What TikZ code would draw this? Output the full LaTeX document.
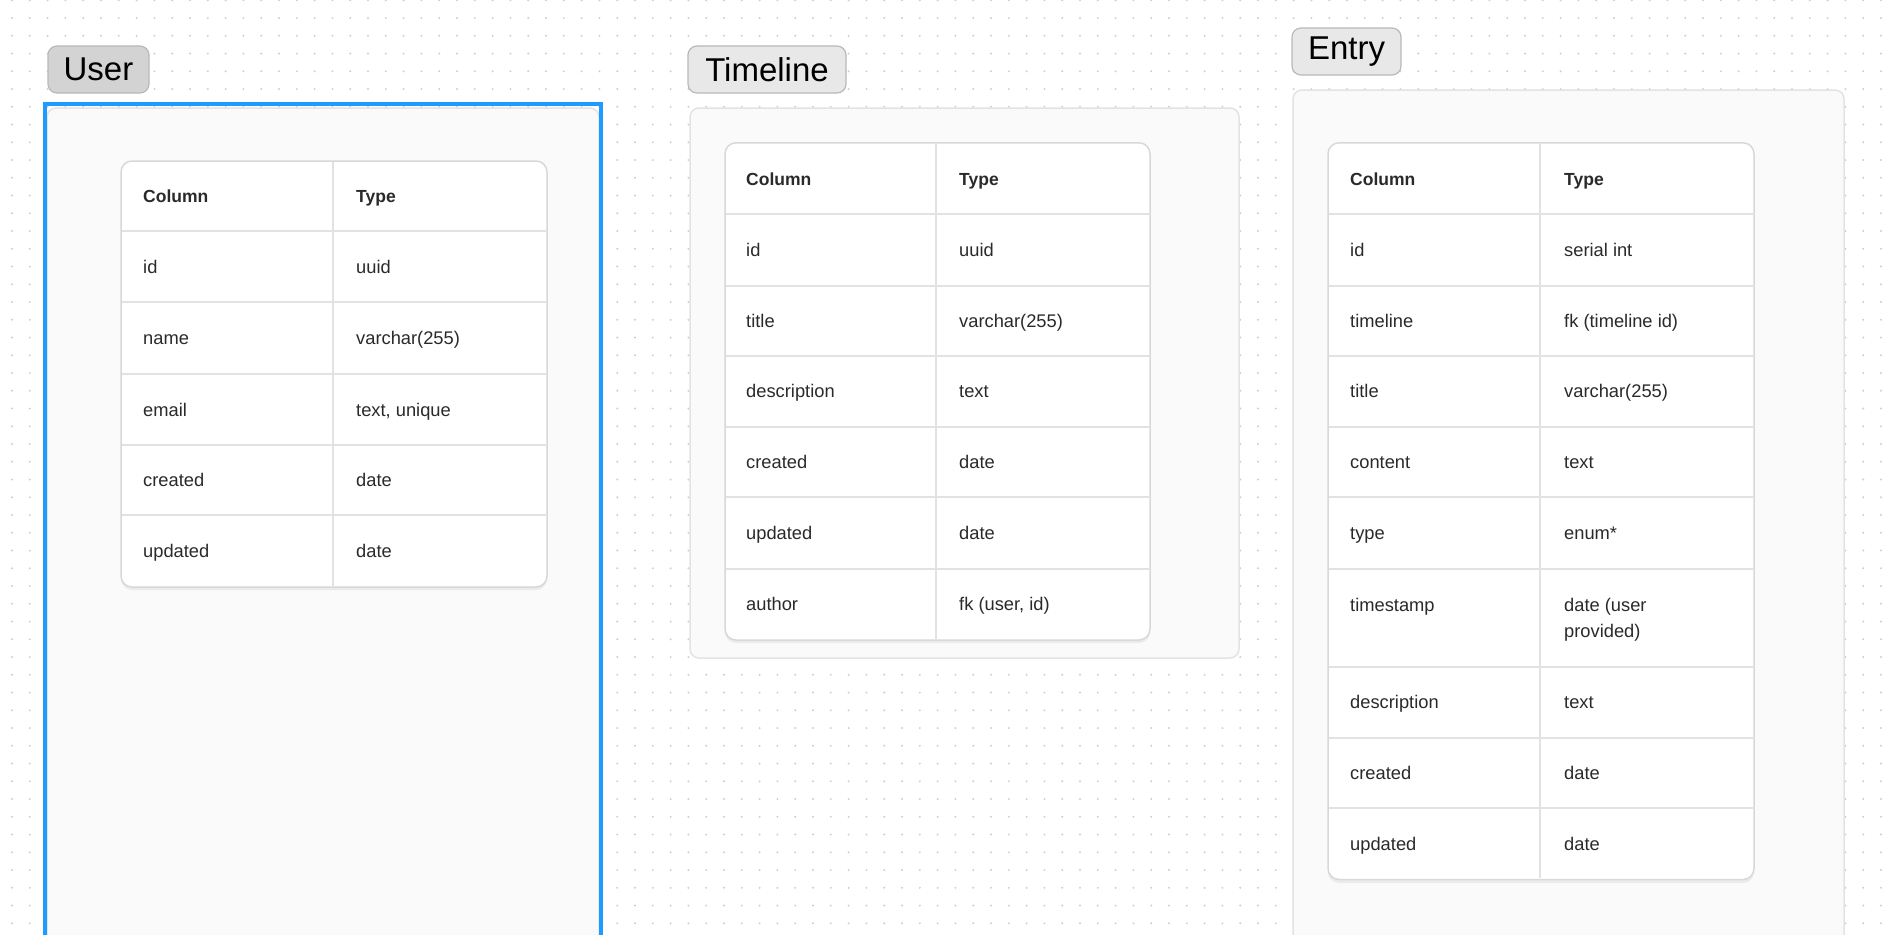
\documentclass[tikz,border=0pt]{standalone}
\usepackage{fontspec}
\setmainfont{Liberation Sans}
\definecolor{dotc}{HTML}{CFCFCF}
\definecolor{panelfill}{HTML}{FAFAFA}
\definecolor{panelline}{HTML}{E3E3E3}
\definecolor{tabline}{HTML}{D8D8D8}
\definecolor{rowc}{HTML}{E2E2E2}
\definecolor{selblue}{HTML}{1E9BFF}
\definecolor{labsel}{HTML}{D3D3D3}
\definecolor{labfill}{HTML}{E8E8E8}
\definecolor{labline}{HTML}{B9B9B9}
\definecolor{txt}{HTML}{2A2A2A}
\tikzset{
  panel/.style={fill=panelfill, draw=panelline, line width=1.5pt, rounded corners=9pt},
  tablebox/.style={fill=white, draw=tabline, line width=1.5pt, rounded corners=11pt},
  tabshadow/.style={fill=black!8, rounded corners=11pt},
  rowline/.style={draw=rowc, line width=2pt},
  labelbox/.style={draw=labline, line width=1.2pt, rounded corners=9pt, text=black,
    font=\fontsize{33}{36}\selectfont, inner sep=0pt},
  cell/.style={anchor=base west, inner sep=0pt, text=txt, font=\fontsize{18.3}{26.6}\selectfont},
  headcell/.style={cell, font=\fontsize{17.5}{26.6}\selectfont\bfseries},
}
\begin{document}
\begin{tikzpicture}[x=1pt,y=-1pt]
\useasboundingbox (0,0) rectangle (1897,934);
\fill[white] (0,0) rectangle (1897,934);
% dotted grid
\foreach \j in {0,...,53}{
  \draw[dotc, line width=2.2pt, line cap=round, dash pattern=on 0pt off 17.8pt]
    (12,{0.3+\j*17.75}) -- (1900,{0.3+\j*17.75});
}

% ---------- USER ----------
\node[labelbox, fill=labsel, minimum width=101pt, minimum height=47pt] (userlab) at (98.5,69.5) {User};
\draw[panel] (47,108) rectangle (599,960);
\coordinate (usersel1) at (45,104);
\coordinate (usersel2) at (601,960);
\draw[selblue, line width=4pt] (usersel1) rectangle (usersel2);
\fill[tabshadow] (121,164) rectangle (547,590);
\draw[tablebox] (121,161) rectangle (547,587);
\foreach \y in {231.1,302.4,373.8,445.2,515.4}{\draw[rowline] (122,\y) -- (546,\y);}
\draw[rowline] (333,162) -- (333,586);
\node[headcell] (uh1) at (143,202.5) {Column};
\node[headcell] (uh2) at (356,202.5) {Type};
\node[cell] (u11) at (143,273.3) {id};
\node[cell] (u12) at (356,273.3) {uuid};
\node[cell] (u21) at (143,344.6) {name};
\node[cell] (u22) at (356,344.6) {varchar(255)};
\node[cell] (u31) at (143,416) {email};
\node[cell] (u32) at (356,416) {text, unique};
\node[cell] (u41) at (143,486.8) {created};
\node[cell] (u42) at (356,486.8) {date};
\node[cell] (u51) at (143,557.6) {updated};
\node[cell] (u52) at (356,557.6) {date};

% ---------- TIMELINE ----------
\node[labelbox, fill=labfill, minimum width=158pt, minimum height=47pt] (tllab) at (767,69.5) {Timeline};
\draw[panel] (690,108) rectangle (1239,658);
\fill[tabshadow] (725,146) rectangle (1150,643);
\draw[tablebox] (725,142.8) rectangle (1150,640);
\foreach \y in {214.1,285.5,355.7,427.1,497.2,568.6}{\draw[rowline] (726,\y) -- (1149,\y);}
\draw[rowline] (936,144) -- (936,639);
\node[headcell] (th1) at (746,185) {Column};
\node[headcell] (th2) at (959,185) {Type};
\node[cell] (t11) at (746,256.3) {id};
\node[cell] (t12) at (959,256.3) {uuid};
\node[cell] (t21) at (746,327.1) {title};
\node[cell] (t22) at (959,327.1) {varchar(255)};
\node[cell] (t31) at (746,397.9) {description};
\node[cell] (t32) at (959,397.9) {text};
\node[cell] (t41) at (746,468.7) {created};
\node[cell] (t42) at (959,468.7) {date};
\node[cell] (t51) at (746,539.4) {updated};
\node[cell] (t52) at (959,539.4) {date};
\node[cell] (t61) at (746,610.8) {author};
\node[cell] (t62) at (959,610.8) {fk (user, id)};

% ---------- ENTRY ----------
\node[labelbox, fill=labfill, minimum width=109pt, minimum height=47pt] (enlab) at (1346.5,51.5) {Entry};
\draw[panel] (1293,90) rectangle (1844,960);
\fill[tabshadow] (1328,146) rectangle (1754,883);
\draw[tablebox] (1328,142.8) rectangle (1754,879.5);
\foreach \y in {214.1,285.5,355.7,427.1,497.2,568.6,666.6,738.0,808.1}{\draw[rowline] (1329,\y) -- (1753,\y);}
\draw[rowline] (1540,144) -- (1540,878);
\node[headcell] (eh1) at (1350,185) {Column};
\node[headcell] (eh2) at (1564,185) {Type};
\node[cell] (e11) at (1350,256.3) {id};
\node[cell] (e12) at (1564,256.3) {serial int};
\node[cell] (e21) at (1350,327.1) {timeline};
\node[cell] (e22) at (1564,327.1) {fk (timeline id)};
\node[cell] (e31) at (1350,397.9) {title};
\node[cell] (e32) at (1564,397.9) {varchar(255)};
\node[cell] (e41) at (1350,468.7) {content};
\node[cell] (e42) at (1564,468.7) {text};
\node[cell] (e51) at (1350,539.4) {type};
\node[cell] (e52) at (1564,539.4) {enum*};
\node[cell] (e61) at (1350,611) {timestamp};
\node[cell] (e62) at (1564,611) {date (user};
\node[cell] (e62b) at (1564,637.6) {provided)};
\node[cell] (e71) at (1350,708.8) {description};
\node[cell] (e72) at (1564,708.8) {text};
\node[cell] (e81) at (1350,779.6) {created};
\node[cell] (e82) at (1564,779.6) {date};
\node[cell] (e91) at (1350,850.3) {updated};
\node[cell] (e92) at (1564,850.3) {date};
\end{tikzpicture}
\end{document}
